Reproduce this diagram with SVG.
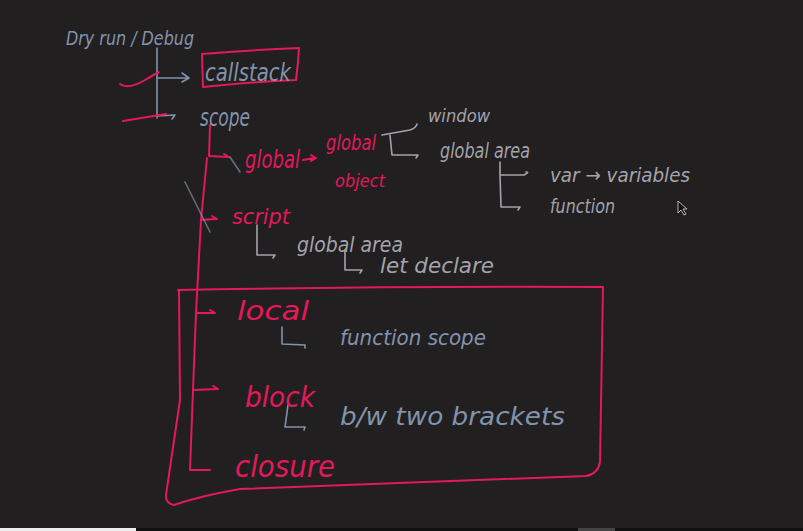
<svg xmlns="http://www.w3.org/2000/svg" width="803" height="531" viewBox="0 0 803 531">
<defs>
<style>
.bg{fill:#211f1f}
.t{font-family:"DejaVu Sans",sans-serif;font-style:italic}
.red{fill:#e3195b}
.blue{fill:#8193ad}
.grey{fill:#a3a3ad}
.sr{fill:none;stroke:#e3195b;stroke-width:2;stroke-linecap:round;stroke-linejoin:round}
.sb{fill:none;stroke:#8193ad;stroke-width:1.6;stroke-linecap:round;stroke-linejoin:round}
.sg{fill:none;stroke:#a3a3ad;stroke-width:1.6;stroke-linecap:round;stroke-linejoin:round}
</style>
</defs>
<rect class="bg" x="0" y="0" width="803" height="531"/>
<rect x="0" y="528" width="803" height="3" fill="#111"/>
<rect x="0" y="528" width="136" height="3" fill="#eee"/>
<rect x="578" y="528" width="37" height="3" fill="#444"/>

<g id="connectors">
  <!-- top tree -->
  <path class="sb" d="M157 48 L157 118"/>
  <path class="sb" d="M157 78 L188 78 M182 73 L189 78 L182 82"/>
  <path class="sb" d="M157 116 L175 115 L172 119"/>
  <path class="sr" d="M120 84 Q128 90 145 80 T158 73"/>
  <path class="sr" d="M123 121 L166 114"/>
  <!-- main red tree -->
  <path class="sr" d="M210 125 L209 156 L228 157 M224 154 L229 157"/>
  <path class="sr" d="M207 158 L201 220 L196 313 L193 390 L190 470 L210 470"/>
  <path class="sr" d="M201 220 L216 219 M212 216 L217 219"/>
  <path class="sr" d="M196 313 L214 313 M210 310 L215 313"/>
  <path class="sr" d="M193 390 L217 389 M213 386 L218 389"/>
  <!-- arrow global -> global object -->
  <path class="sr" d="M303 160 L315 158 M311 155 L316 158 L311 161"/>
  <!-- stray strokes -->
  <path class="sb" d="M185 182 L210 232" opacity="0.7"/>
  <path class="sb" d="M230 157 L240 172" opacity="0.7"/>
  <!-- global object tree -->
  <path class="sg" d="M382 135 L410 130 Q416 128 417 124"/>
  <path class="sg" d="M390 135 L392 155 L418 155 L416 158"/>
  <path class="sg" d="M500 162 L500 175 L524 175 Q530 172 526 172 M500 175 L501 207 L520 207 L518 210"/>
  <!-- script tree -->
  <path class="sg" d="M257 225 L257 255 L275 255 L273 258"/>
  <path class="sg" d="M345 250 L345 270 L362 270 L360 273"/>
  <!-- local / block -->
  <path class="sb" d="M282 327 L282 344 L305 345 L305 348"/>
  <path class="sb" d="M288 405 L285 427 L305 427 L304 430"/>
</g>

<g id="callstack-box">
  <path class="sr" d="M202 54 L203 87 Q250 82 296 80 Q298 65 299 48 Q250 50 202 54 Z"/>
</g>

<g id="big-box">
  <path class="sr" d="M178 290 Q390 286 603 287 L600 462 Q598 474 586 476 L240 489 Q200 496 174 505 Q165 503 166 495 L180 400 L179 290"/>
</g>

<g id="title"><text class="t blue" x="66" y="45" font-size="20" textLength="128" lengthAdjust="spacingAndGlyphs">Dry run / Debug</text></g>
<g id="callstack"><text class="t blue" x="205" y="81" font-size="25" textLength="86" lengthAdjust="spacingAndGlyphs">callstack</text></g>
<g id="scope"><text class="t blue" x="200" y="126" font-size="24" textLength="50" lengthAdjust="spacingAndGlyphs">scope</text></g>
<g id="global"><text class="t red" x="245" y="168" font-size="24" textLength="55" lengthAdjust="spacingAndGlyphs">global</text></g>
<g id="global-object"><text class="t red" x="326" y="150" font-size="22" textLength="50" lengthAdjust="spacingAndGlyphs">global</text><text class="t red" x="335" y="187" font-size="18" textLength="50" lengthAdjust="spacingAndGlyphs">object</text></g>
<g id="window"><text class="t grey" x="428" y="122" font-size="18" textLength="62" lengthAdjust="spacingAndGlyphs">window</text></g>
<g id="global-area-1"><text class="t grey" x="440" y="158" font-size="22" textLength="90" lengthAdjust="spacingAndGlyphs">global area</text></g>
<g id="var"><text class="t grey" x="550" y="182" font-size="20" textLength="140" lengthAdjust="spacingAndGlyphs">var → variables</text></g>
<g id="function"><text class="t grey" x="550" y="213" font-size="19" textLength="65" lengthAdjust="spacingAndGlyphs">function</text></g>
<g id="script"><text class="t red" x="232" y="224" font-size="22" textLength="58" lengthAdjust="spacingAndGlyphs">script</text></g>
<g id="global-area-2"><text class="t grey" x="297" y="252" font-size="22" textLength="106" lengthAdjust="spacingAndGlyphs">global area</text></g>
<g id="let"><text class="t grey" x="380" y="273" font-size="22" textLength="114" lengthAdjust="spacingAndGlyphs">let declare</text></g>
<g id="local"><text class="t red" x="237" y="320" font-size="26" textLength="72" lengthAdjust="spacingAndGlyphs">local</text></g>
<g id="function-scope"><text class="t blue" x="340" y="345" font-size="22" textLength="146" lengthAdjust="spacingAndGlyphs">function scope</text></g>
<g id="block"><text class="t red" x="245" y="407" font-size="28" textLength="70" lengthAdjust="spacingAndGlyphs">block</text></g>
<g id="bw"><text class="t blue" x="340" y="425" font-size="24" textLength="225" lengthAdjust="spacingAndGlyphs">b/w two brackets</text></g>
<g id="closure"><text class="t red" x="235" y="477" font-size="30" textLength="100" lengthAdjust="spacingAndGlyphs">closure</text></g>

<g id="cursor"><path d="M678 201 L678 213 L681 210 L684 215 L686 214 L683 209 L687 209 Z" fill="#111" stroke="#ddd" stroke-width="0.8"/></g>
</svg>
